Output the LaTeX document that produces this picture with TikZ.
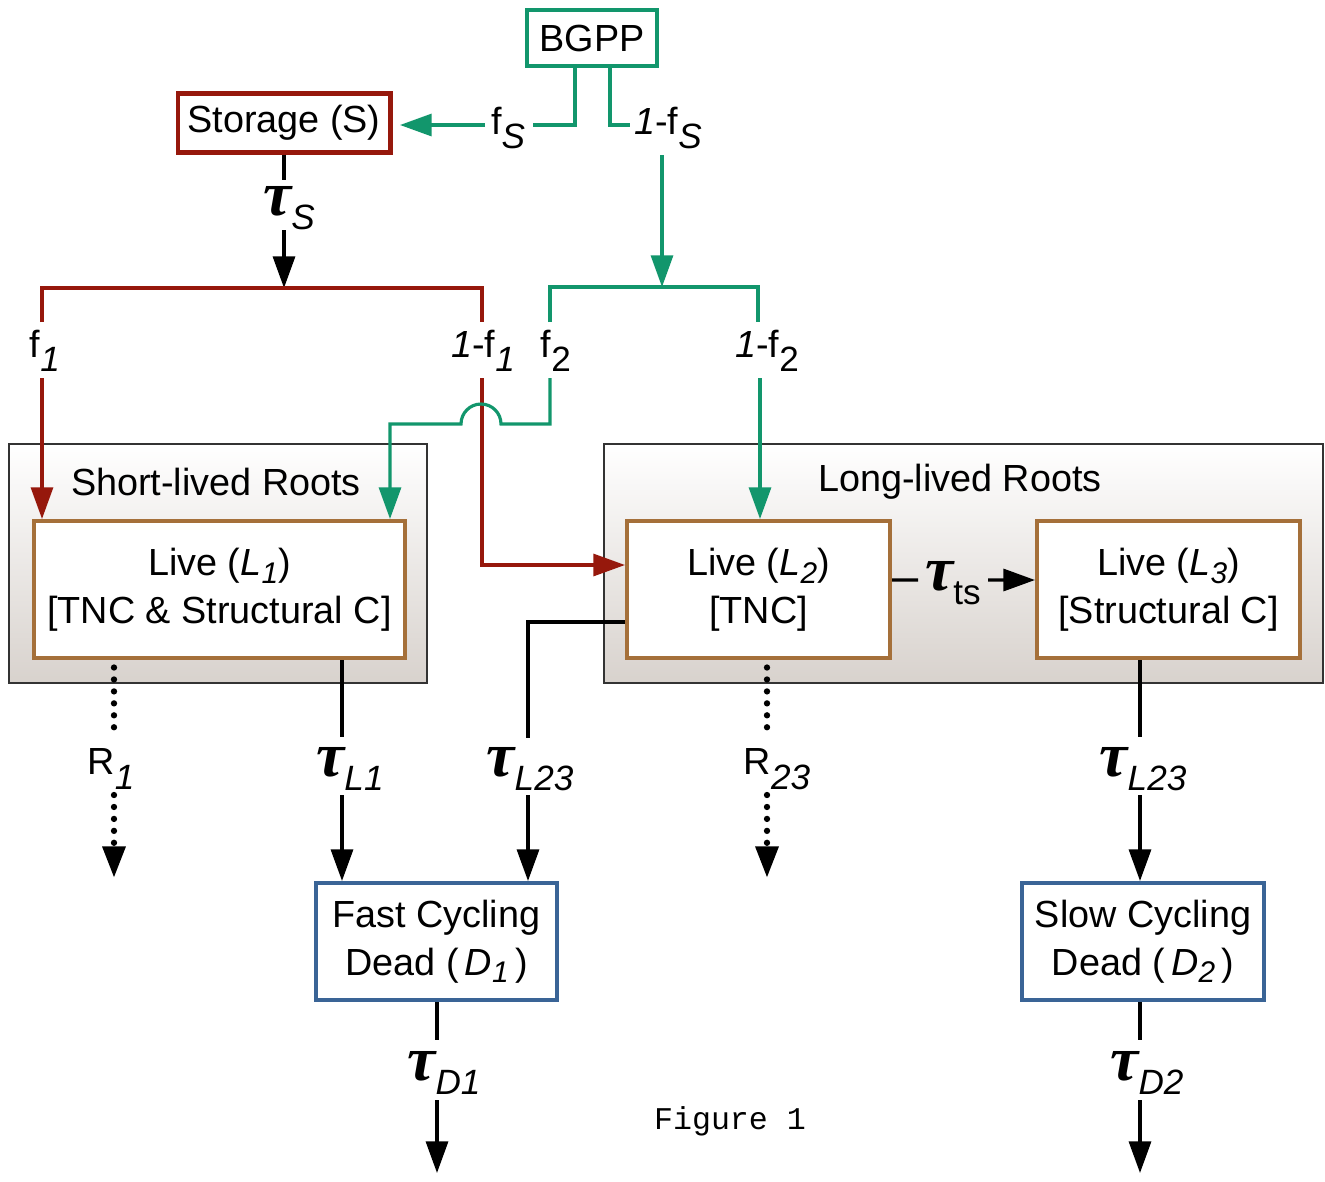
\documentclass[tikz,border=0pt]{standalone}
\usepackage{fontspec}
\setmainfont{Liberation Sans}
\newfontfamily\grfont{Liberation Serif}
\newfontfamily\monofnt{Liberation Mono}
\usetikzlibrary{arrows.meta}
\definecolor{cgreen}{RGB}{18,150,108}
\definecolor{cred}{RGB}{150,24,12}
\definecolor{cbrown}{RGB}{165,112,58}
\definecolor{cblue}{RGB}{58,100,150}
\definecolor{cgrpbot}{RGB}{216,210,205}
\newcommand\sbs[1]{\raisebox{-0.38em}{\fontsize{20}{20}\selectfont\itshape #1}}
\newcommand\sbu[1]{\raisebox{-0.38em}{\fontsize{20}{20}\selectfont #1}}
\newcommand\sbb[1]{\raisebox{-0.2em}{\fontsize{17}{17}\selectfont\itshape #1}}
\newcommand\tauv{{\grfont\bfseries\itshape\fontsize{36}{36}\selectfont τ}}
\begin{document}
\begin{tikzpicture}[x=0.02cm,y=-0.02cm,
  font=\fontsize{21.5}{27}\selectfont,
  box/.style={draw, line width=2.3pt, fill=white, align=center, inner sep=0pt},
  grp/.style={draw=black!80, line width=1.2pt, top color=white, bottom color=cgrpbot, inner sep=0pt},
  lbl/.style={inner sep=0pt},
  gl/.style={draw=cgreen, line width=1.8pt},
  rl/.style={draw=cred, line width=1.8pt},
  bl/.style={draw=black, line width=1.9pt},
  tip/.style={-{Triangle[length=18pt,width=12.5pt]}},
  dots/.style={line width=3.6pt, line cap=round, dash pattern=on 0pt off 6.8pt}]
\useasboundingbox (0,0) rectangle (1325,1181);
% groups
\node[grp, minimum width=8.36cm, minimum height=4.78cm] (short) at (218,563.5) {};
\node[grp, minimum width=14.38cm, minimum height=4.78cm] (long) at (963.5,563.5) {};
\node[lbl] (shortlbl) at (216,482) {Short-lived Roots};
\node[lbl] (longlbl) at (960,482) {Long-lived Roots};
% boxes
\node[box, draw=cgreen, line width=1.9pt, minimum width=2.6cm, minimum height=1.12cm] (bgpp) at (592,38) {BGPP};
\node[box, draw=cred, minimum width=4.26cm, minimum height=1.18cm] (stor) at (284,123) {Storage (S)};
\node[box, draw=cbrown, minimum width=7.42cm, minimum height=2.74cm] (L1) at (219.5,589.5) {Live (\textit{L}\sbb{1})\\{}[TNC \& Structural C]};
\node[box, draw=cbrown, minimum width=5.26cm, minimum height=2.74cm] (L2) at (758.5,589.5) {Live (\textit{L}\sbb{2})\\{}[TNC]};
\node[box, draw=cbrown, minimum width=5.26cm, minimum height=2.74cm] (L3) at (1168.5,589.5) {Live (\textit{L}\sbb{3})\\{}[Structural C]};
\node[box, draw=cblue, minimum width=4.82cm, minimum height=2.34cm] (D1) at (436.5,941.5) {Fast Cycling\\Dead (\,\textit{D}\sbb{1}\,)};
\node[box, draw=cblue, minimum width=4.84cm, minimum height=2.34cm] (D2) at (1143,941.5) {Slow Cycling\\Dead (\,\textit{D}\sbb{2}\,)};
% labels
\node[lbl] (fs) at (508,128) {f\sbs{S}};
\node[lbl] (omfs) at (668,128) {\textit{1}-f\sbs{S}};
\node[lbl] (taus) at (289,208) {\tauv\sbs{S}};
\node[lbl] (f1) at (45,351) {f\sbs{1}};
\node[lbl] (omf1) at (483,351) {\textit{1}-f\sbs{1}};
\node[lbl] (f2) at (556,351) {f\sbu{2}};
\node[lbl] (omf2) at (767,351) {\textit{1}-f\sbu{2}};
\node[lbl] (tts) at (953,583) {\tauv\sbu{ts}};
\node[lbl] (r1) at (111,769) {R\sbs{1}};
\node[lbl] (tl1) at (350,769) {\tauv\sbs{L1}};
\node[lbl] (tl23a) at (530,769) {\tauv\sbs{L23}};
\node[lbl] (r23) at (777,769) {R\sbs{23}};
\node[lbl] (tl23b) at (1143,769) {\tauv\sbs{L23}};
\node[lbl] (td1) at (444,1073) {\tauv\sbs{D1}};
\node[lbl] (td2) at (1147,1073) {\tauv\sbs{D2}};
\node[lbl] (fig) at (730,1121) {\monofnt\fontsize{18}{18}\selectfont Figure 1};
% coordinates
\coordinate (fsR) at (533,125);
\coordinate (fsL) at (485,125);
\coordinate (omfsL) at (630,125);
\coordinate (omfsB) at (662,155);
\coordinate (gbr) at (662,287);
\coordinate (gbL) at (550,322);
\coordinate (gbRt) at (758,322);
\coordinate (rbL) at (42,322);
\coordinate (rbR) at (482,322);
\coordinate (rbT) at (284,288);
\coordinate (tausT) at (284,180);
\coordinate (tausB) at (284,230);
\coordinate (f1B) at (42,378);
\coordinate (omf1B) at (482,378);
\coordinate (f2B) at (550,378);
\coordinate (hopR) at (501,424);
\coordinate (gturn) at (390,424);
\coordinate (omf2B) at (760,378);
\coordinate (tsa) at (918,580);
\coordinate (tsb) at (988,580);
\coordinate (l23aT) at (528,738);
\coordinate (l23aB) at (528,795);
\coordinate (l1T) at (342,737);
\coordinate (l1B) at (342,795);
\coordinate (r1T) at (114,738);
\coordinate (r1B) at (114,795);
\coordinate (r1E) at (114,878);
\coordinate (r23T) at (767,738);
\coordinate (r23B) at (767,795);
\coordinate (r23E) at (767,878);
\coordinate (l3T) at (1140,737);
\coordinate (l3B) at (1140,795);
\coordinate (d1T) at (437,1040);
\coordinate (d1B) at (437,1100);
\coordinate (d1E) at (437,1173);
\coordinate (d2T) at (1140,1040);
\coordinate (d2B) at (1140,1100);
\coordinate (d2E) at (1140,1173);
% top connectors
\draw[gl] ([xshift=-0.34cm]bgpp.south) |- (fsR);
\draw[gl,tip] (fsL) -- ([xshift=0.15cm]stor.east |- fsL);
\draw[gl] ([xshift=0.36cm]bgpp.south) |- (omfsL);
\draw[gl,tip] (omfsB) -- (gbr);
\draw[gl] (gbL) -- (gbL |- gbr) -- (gbRt |- gbr) -- (gbRt);
\draw[bl] (stor.south) -- (tausT);
\draw[bl,tip] (tausB) -- (rbT);
\draw[rl] (rbL) -- (rbL |- rbT) -- (rbR |- rbT) -- (rbR);
% to live pools
\draw[rl,tip] (f1B) -- (f1B |- L1.north);
\draw[rl,tip] (omf1B) |- ([yshift=0.49cm]L2.west);
\draw[gl,tip] (f2B) |- (hopR) arc[start angle=0,end angle=180,radius=0.4cm] -- (gturn) -- (gturn |- L1.north);
\draw[gl,tip] (omf2B) -- (omf2B |- L2.north);
\draw[bl] ([yshift=0.19cm]L2.east) -- (tsa);
\draw[bl,tip] (tsb) -- ([yshift=0.19cm]L3.west);
% lower connectors
\draw[bl] ([yshift=-0.65cm]L2.west) -| (l23aT);
\draw[bl,tip] (l23aB) -- (l23aB |- D1.north);
\draw[bl] (l1T |- L1.south) -- (l1T);
\draw[bl,tip] (l1B) -- (l1B |- D1.north);
\draw[dots] ([yshift=-0.15cm]r1T |- L1.south) -- (r1T);
\draw[dots,tip] (r1B) -- (r1E);
\draw[dots] ([yshift=-0.15cm]r23T |- L2.south) -- (r23T);
\draw[dots,tip] (r23B) -- (r23E);
\draw[bl] (l3T |- L3.south) -- (l3T);
\draw[bl,tip] (l3B) -- (l3B |- D2.north);
\draw[bl] (d1T |- D1.south) -- (d1T);
\draw[bl,tip] (d1B) -- (d1E);
\draw[bl] (d2T |- D2.south) -- (d2T);
\draw[bl,tip] (d2B) -- (d2E);
\end{tikzpicture}
\end{document}
